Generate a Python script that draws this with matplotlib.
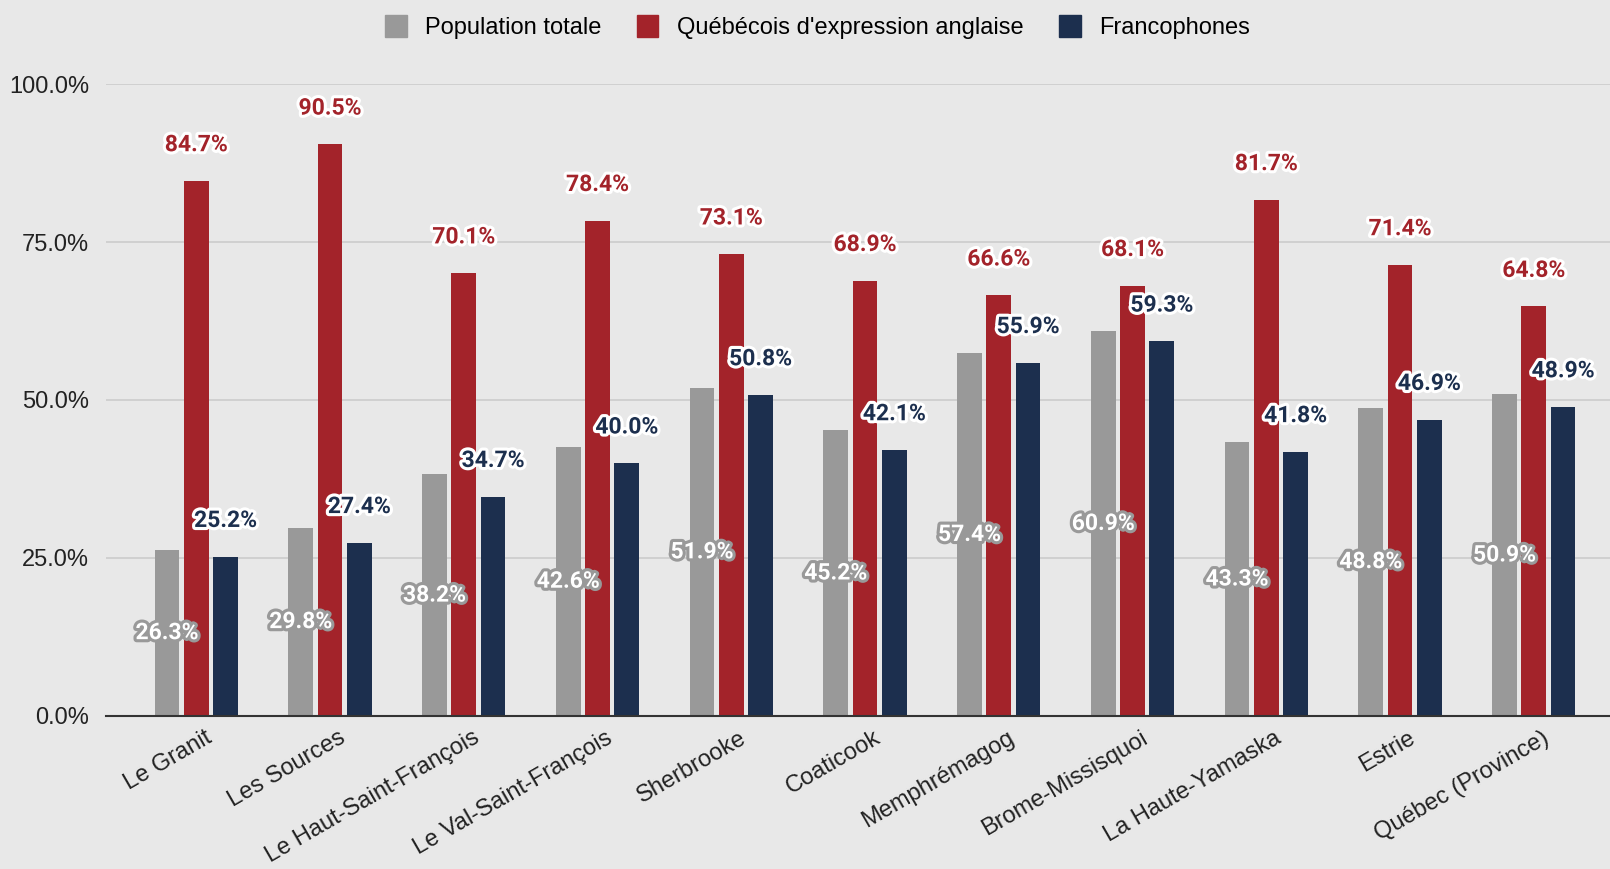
import matplotlib.pyplot as plt
import matplotlib.patheffects as pe
import matplotlib.transforms as mtransforms
from matplotlib.patches import Patch
import numpy as np

regions = ['Le Granit', 'Les Sources', 'Le Haut-Saint-François', 'Le Val-Saint-François',
           'Sherbrooke', 'Coaticook', 'Memphrémagog', 'Brome-Missisquoi',
           'La Haute-Yamaska', 'Estrie', 'Québec (Province)']
pop_totale = [26.3, 29.8, 38.2, 42.6, 51.9, 45.2, 57.4, 60.9, 43.3, 48.8, 50.9]
anglo = [84.7, 90.5, 70.1, 78.4, 73.1, 68.9, 66.6, 68.1, 81.7, 71.4, 64.8]
franco = [25.2, 27.4, 34.7, 40.0, 50.8, 42.1, 55.9, 59.3, 41.8, 46.9, 48.9]
series_names = ['Population totale', "Québécois d'expression anglaise", 'Francophones']

bg = '#e8e8e8'
c_grey = '#999999'
c_red = '#a3232a'
c_navy = '#1c2f4e'

fig = plt.figure(figsize=(16.1, 8.69), dpi=100, facecolor=bg)
ax = fig.add_axes([0.0658, 0.1764, 0.9342, 0.7267], facecolor=bg)

pos = np.arange(len(regions))
w = 0.185
step = 0.219

ax.bar(pos - step, pop_totale, w, color=c_grey, zorder=3)
ax.bar(pos, anglo, w, color=c_red, zorder=3)
ax.bar(pos + step, franco, w, color=c_navy, zorder=3)

lab_font = dict(family='Roboto', weight='bold', fontsize=16.5)

# grey labels sit inside the bar, others float above
for x, v in zip(pos - step, pop_totale):
    ax.text(x, v / 2, f'{v:.1f}%', ha='center', va='center', color='white', zorder=5,
            path_effects=[pe.withStroke(linewidth=4.5, foreground=c_grey)], **lab_font)
for xs, vals, col in [(pos, anglo, c_red), (pos + step, franco, c_navy)]:
    for x, v in zip(xs, vals):
        ax.annotate(f'{v:.1f}%', (x, v), xytext=(0, 26), textcoords='offset points',
                    ha='center', va='center', color=col, zorder=5, annotation_clip=False,
                    path_effects=[pe.withStroke(linewidth=4.5, foreground='white')], **lab_font)

ax.set_ylim(0, 100)
ax.set_xlim(-0.675, 10.57)
ax.set_yticks([0, 25, 50, 75, 100])
ax.set_yticklabels(['0.0%', '25.0%', '50.0%', '75.0%', '100.0%'])
ax.yaxis.grid(True, color='#cccccc', linewidth=1.2, zorder=0)
ax.tick_params(axis='y', length=0, pad=12, labelsize=17, labelcolor='#222222')
ax.tick_params(axis='x', length=0, pad=8, labelsize=17, labelcolor='#222222')
for lbl in ax.get_yticklabels():
    lbl.set_fontfamily('Liberation Sans')

ax.set_xticks(pos)
ax.set_xticklabels(regions, rotation=30, ha='right', rotation_mode='anchor',
                   family='Liberation Sans')
shift = mtransforms.ScaledTranslation(8 / 100, 0, fig.dpi_scale_trans)
for lbl in ax.get_xticklabels():
    lbl.set_transform(lbl.get_transform() + shift)

for s in ['top', 'right', 'left']:
    ax.spines[s].set_visible(False)
ax.spines['bottom'].set_color('#333333')
ax.spines['bottom'].set_linewidth(1.5)
ax.spines['bottom'].set_zorder(4)

handles = [Patch(color=c) for c in [c_grey, c_red, c_navy]]
fig.legend(handles, series_names, loc='center', bbox_to_anchor=(0.508, 0.969), ncol=3,
           frameon=False, handlelength=0.9, handleheight=1.1, columnspacing=1.5,
           handletextpad=0.8, prop={'family': 'Liberation Sans', 'size': 17})

fig.savefig('out.png', dpi=100, facecolor=bg)
